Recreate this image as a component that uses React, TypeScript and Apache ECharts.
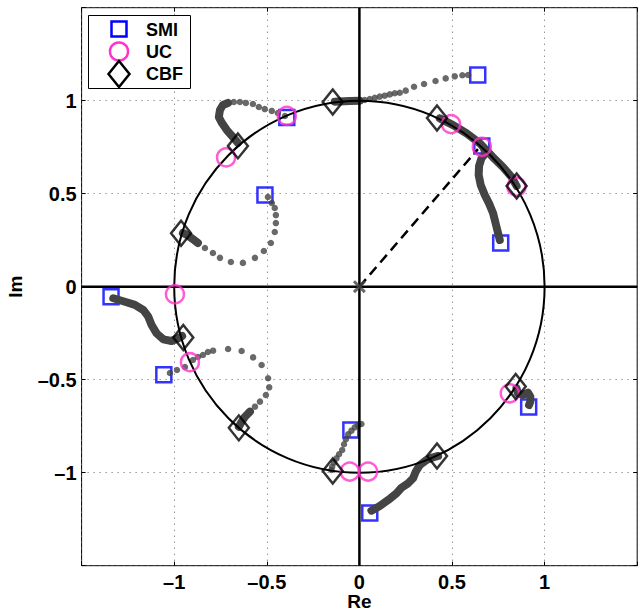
import React, { useEffect, useRef } from 'react';
import * as echarts from 'echarts';

const AXIS_MIN = -1.5;
const AXIS_MAX = 1.5;
const AXIS_STEP = 0.5;
const tickValues = [-1, -0.5, 0, 0.5, 1];
const tickLabels = ['–1', '–0.5', '0', '0.5', '1'];

const legendNames = ['SMI', 'UC', 'CBF'];

// end points of each method (Re, Im)
const smi = [
  [0.639, 1.138], [-0.392, 0.91], [-0.51, 0.493], [0.661, 0.756], [0.763, 0.235],
  [-1.341, -0.054], [-1.056, -0.474], [0.914, -0.647], [-0.046, -0.77], [0.056, -1.217],
];
const uc = [
  [-0.392, 0.918], [-0.72, 0.695], [0.495, 0.874], [0.661, 0.752], [0.848, 0.538],
  [-0.996, -0.041], [-0.915, -0.406], [0.812, -0.573], [-0.052, -0.994], [0.047, -0.994],
];
const cbf = [
  [-0.144, 0.993], [-0.656, 0.757], [-0.963, 0.287], [0.419, 0.907], [0.849, 0.541],
  [-0.951, -0.273], [-0.651, -0.759], [-0.144, -0.991], [0.419, -0.91], [0.844, -0.537],
];

// sparse dots of the trajectories
const dots1 = [
  [0.587, 1.138], [0.556, 1.137], [0.515, 1.131], [0.466, 1.12], [0.411, 1.106], [0.349, 1.09],
  [0.295, 1.075], [0.25, 1.054], [0.218, 1.043], [0.191, 1.04], [0.164, 1.034], [0.137, 1.027],
  [0.11, 1.022], [0.083, 1.016], [0.056, 1.009], [0.029, 1.004],
];
const dots2 = [
  [-0.402, 0.918], [-0.44, 0.934], [-0.473, 0.945], [-0.511, 0.955], [-0.543, 0.966],
  [-0.575, 0.982], [-0.613, 0.988], [-0.645, 0.993], [-0.678, 0.993],
];
const dots3 = [
  [-0.494, 0.482], [-0.473, 0.45], [-0.457, 0.423], [-0.451, 0.385], [-0.451, 0.342],
  [-0.457, 0.294], [-0.478, 0.235], [-0.516, 0.192], [-0.564, 0.155], [-0.629, 0.128],
  [-0.694, 0.133], [-0.753, 0.155], [-0.791, 0.181], [-0.834, 0.208],
];
const dots7 = [
  [-1.023, -0.464], [-0.985, -0.448], [-0.942, -0.432], [-0.899, -0.394], [-0.872, -0.378],
  [-0.845, -0.367], [-0.818, -0.351], [-0.79, -0.344], [-0.709, -0.335], [-0.636, -0.346],
  [-0.574, -0.38], [-0.528, -0.421], [-0.493, -0.492], [-0.487, -0.541], [-0.505, -0.582],
  [-0.537, -0.618], [-0.564, -0.645],
];
const dots8 = [
  [0.011, -0.738], [-0.007, -0.744], [-0.025, -0.756], [-0.043, -0.774], [-0.061, -0.794],
  [-0.073, -0.82], [-0.083, -0.847], [-0.093, -0.878], [-0.11, -0.901], [-0.124, -0.923],
  [-0.137, -0.946], [-0.147, -0.968], [-0.151, -0.985],
];

// dense parts of the trajectories (dots merge into a thick trail)
const trail1 = [[0.002, 1.0], [-0.052, 0.998], [-0.106, 0.996], [-0.133, 0.995]];
const trail2 = [
  [-0.71, 0.988], [-0.737, 0.977], [-0.753, 0.95], [-0.759, 0.912], [-0.742, 0.88],
  [-0.716, 0.842], [-0.683, 0.805], [-0.656, 0.773],
];
const trail3 = [[-0.872, 0.235], [-0.899, 0.256], [-0.931, 0.278], [-0.953, 0.289]];
const trail4 = [
  [0.434, 0.905], [0.506, 0.869], [0.578, 0.825], [0.65, 0.771], [0.72, 0.697],
  [0.774, 0.644], [0.821, 0.591], [0.849, 0.541],
];
const trail5 = [
  [0.758, 0.251], [0.74, 0.323], [0.722, 0.395], [0.7, 0.448], [0.677, 0.493], [0.655, 0.547],
  [0.644, 0.601], [0.646, 0.649], [0.659, 0.69], [0.682, 0.719], [0.671, 0.746],
];
const trail6 = [
  [-1.329, -0.062], [-1.266, -0.081], [-1.212, -0.098], [-1.167, -0.125], [-1.14, -0.161],
  [-1.122, -0.206], [-1.095, -0.251], [-1.059, -0.283], [-1.014, -0.292], [-0.978, -0.277],
  [-0.957, -0.265],
];
const trail7 = [[-0.591, -0.672], [-0.618, -0.699], [-0.636, -0.726], [-0.651, -0.753]];
const trail9 = [
  [0.065, -1.204], [0.11, -1.179], [0.155, -1.147], [0.2, -1.111], [0.227, -1.081],
  [0.263, -1.057], [0.29, -1.03], [0.304, -0.995], [0.326, -0.959], [0.362, -0.932],
  [0.398, -0.917], [0.425, -0.91],
];
const trail10 = [
  [0.848, -0.546], [0.856, -0.573], [0.883, -0.582], [0.91, -0.57], [0.923, -0.591],
  [0.923, -0.618], [0.916, -0.636],
];

const unitCircle = [[0, 0, 1]];
const horizontalAxisLine = [[-1.5, 0], [1.5, 0]];
const verticalAxisLine = [[0, -1.5], [0, 1.5]];
const dashedRay = [[0, 0], [0.64, 0.74]];
const origin = [[0, 0]];

const GRAY = '#444444';
const BLUE = '#0000ff';
const MAGENTA = '#ff33cc';
const FONT = '"Liberation Sans", Arial, Helvetica, sans-serif';

export default function App() {
  const ref = useRef<HTMLDivElement>(null);
  useEffect(() => {
    document.body.style.margin = '0';
    document.body.style.overflow = 'hidden';
    if (!ref.current) return;
    const chart = echarts.init(ref.current, null, { renderer: 'svg' });
    const fmt = (v: number) => {
      const i = tickValues.findIndex((t) => Math.abs(t - v) < 1e-9);
      return i >= 0 ? tickLabels[i] : '';
    };
    const labelStyle = { fontFamily: FONT, fontWeight: 'bold' as const, fontSize: 20, color: '#000' };
    const splitStyle = { color: '#666', width: 1, type: [1, 5] as any };
    const trails = [trail1, trail2, trail3, trail4, trail5, trail6, trail7, trail9, trail10];
    const dots = [dots1, dots2, dots3, dots7, dots8];
    const series: any[] = [];
    series.push({
      name: 'SMI', type: 'scatter', data: smi, symbol: 'rect', symbolSize: 15, z: 2,
      itemStyle: { color: 'rgba(0,0,0,0)', borderColor: BLUE, borderWidth: 2.5 },
    });
    trails.forEach((t) =>
      series.push({
        type: 'line', data: t, showSymbol: false, symbol: 'none', z: 3, silent: true,
        lineStyle: { color: GRAY, width: 8, cap: 'round', join: 'round' },
      })
    );
    dots.forEach((d) =>
      series.push({
        type: 'scatter', data: d, symbol: 'circle', symbolSize: 6.5, z: 3, silent: true,
        itemStyle: { color: GRAY },
      })
    );
    series.push({
      type: 'custom', data: unitCircle, z: 4, silent: true,
      renderItem: (_p: any, api: any) => {
        const c = api.coord([api.value(0), api.value(1)]);
        const s = api.size([api.value(2), api.value(2)]);
        return {
          type: 'ellipse',
          shape: { cx: c[0], cy: c[1], rx: s[0], ry: s[1] },
          style: { fill: 'none', stroke: '#000', lineWidth: 2 },
        };
      },
    });
    [horizontalAxisLine, verticalAxisLine].forEach((l) =>
      series.push({
        type: 'line', data: l, symbol: 'none', z: 4, silent: true,
        lineStyle: { color: '#000', width: 2.5 },
      })
    );
    series.push({
      type: 'line', data: dashedRay, symbol: 'none', z: 4, silent: true,
      lineStyle: { color: '#000', width: 2.5, type: [10, 6] },
    });
    series.push({
      type: 'scatter', data: origin, z: 5, silent: true,
      symbol: 'path://M2,0 L6,4 L10,0 L12,2 L8,6 L12,10 L10,12 L6,8 L2,12 L0,10 L4,6 L0,2 Z',
      symbolSize: 13, itemStyle: { color: GRAY },
    });
    series.push({
      name: 'UC', type: 'scatter', data: uc, symbol: 'circle', symbolSize: 18, z: 6,
      itemStyle: { color: 'rgba(0,0,0,0)', borderColor: MAGENTA, borderWidth: 2.5 },
    });
    series.push({
      name: 'CBF', type: 'scatter', data: cbf, symbol: 'diamond', symbolSize: [20, 25], z: 7,
      itemStyle: { color: 'rgba(0,0,0,0)', borderColor: '#000', borderWidth: 2.5 },
    });

    const legendX = 88.5, legendY = 15.5;
    const graphic: any[] = [
      { type: 'rect', z: 100, shape: { x: legendX, y: legendY, width: 102, height: 73 }, style: { fill: '#fff', stroke: '#000', lineWidth: 1 } },
      { type: 'rect', z: 101, shape: { x: 111.5, y: 21.5, width: 15, height: 15 }, style: { fill: 'none', stroke: BLUE, lineWidth: 2.5 } },
      { type: 'circle', z: 101, shape: { cx: 119, cy: 51.5, r: 9 }, style: { fill: 'none', stroke: MAGENTA, lineWidth: 2.5 } },
      { type: 'polygon', z: 101, shape: { points: [[119, 61], [129.5, 74], [119, 87], [108.5, 74]] }, style: { fill: 'none', stroke: '#000', lineWidth: 2.5 } },
    ];
    const legendTextY = [29.5, 52, 74];
    legendNames.forEach((n, i) =>
      graphic.push({
        type: 'text', z: 101, x: 146, y: legendTextY[i],
        style: { text: n, fill: '#000', font: `bold 18px ${FONT}`, verticalAlign: 'middle' },
      })
    );

    chart.setOption({
      animation: false,
      backgroundColor: '#fff',
      textStyle: { fontFamily: FONT },
      grid: {
        left: 81.6, right: 0.8, top: 7.7, bottom: 48.3, containLabel: false, outerBoundsMode: 'none',
        show: true, borderColor: '#000', borderWidth: 1, backgroundColor: 'transparent',
      },
      xAxis: [
        {
          type: 'value', min: AXIS_MIN, max: AXIS_MAX, interval: AXIS_STEP, position: 'bottom',
          name: 'Re', nameLocation: 'middle', nameGap: 26, nameMoveOverlap: false,
          nameTextStyle: { fontFamily: FONT, fontWeight: 'bold', fontSize: 19, color: '#000' },
          axisLine: { show: false, onZero: false },
          axisTick: { show: true, inside: true, length: 4, lineStyle: { color: '#000' } },
          axisLabel: { ...labelStyle, margin: 6, formatter: fmt },
          splitLine: { show: true, lineStyle: splitStyle },
        },
        {
          type: 'value', min: AXIS_MIN, max: AXIS_MAX, interval: AXIS_STEP, position: 'top',
          axisLine: { show: false, onZero: false },
          axisTick: { show: true, inside: true, length: 4, lineStyle: { color: '#000' } },
          axisLabel: { show: false }, splitLine: { show: false },
        },
      ],
      yAxis: [
        {
          type: 'value', min: AXIS_MIN, max: AXIS_MAX, interval: AXIS_STEP, position: 'left',
          name: 'Im', nameLocation: 'middle', nameGap: 57, nameRotate: 90, nameMoveOverlap: false,
          nameTextStyle: { fontFamily: FONT, fontWeight: 'bold', fontSize: 19, color: '#000' },
          axisLine: { show: false, onZero: false },
          axisTick: { show: true, inside: true, length: 4, lineStyle: { color: '#000' } },
          axisLabel: { ...labelStyle, margin: 5, formatter: fmt },
          splitLine: { show: true, lineStyle: splitStyle },
        },
        {
          type: 'value', min: AXIS_MIN, max: AXIS_MAX, interval: AXIS_STEP, position: 'right',
          axisLine: { show: false, onZero: false },
          axisTick: { show: true, inside: true, length: 4, lineStyle: { color: '#000' } },
          axisLabel: { show: false }, splitLine: { show: false },
        },
      ],
      graphic,
      series,
    });
    return () => chart.dispose();
  }, []);
  return <div ref={ref} style={{ width: 638, height: 614 }} />;
}
